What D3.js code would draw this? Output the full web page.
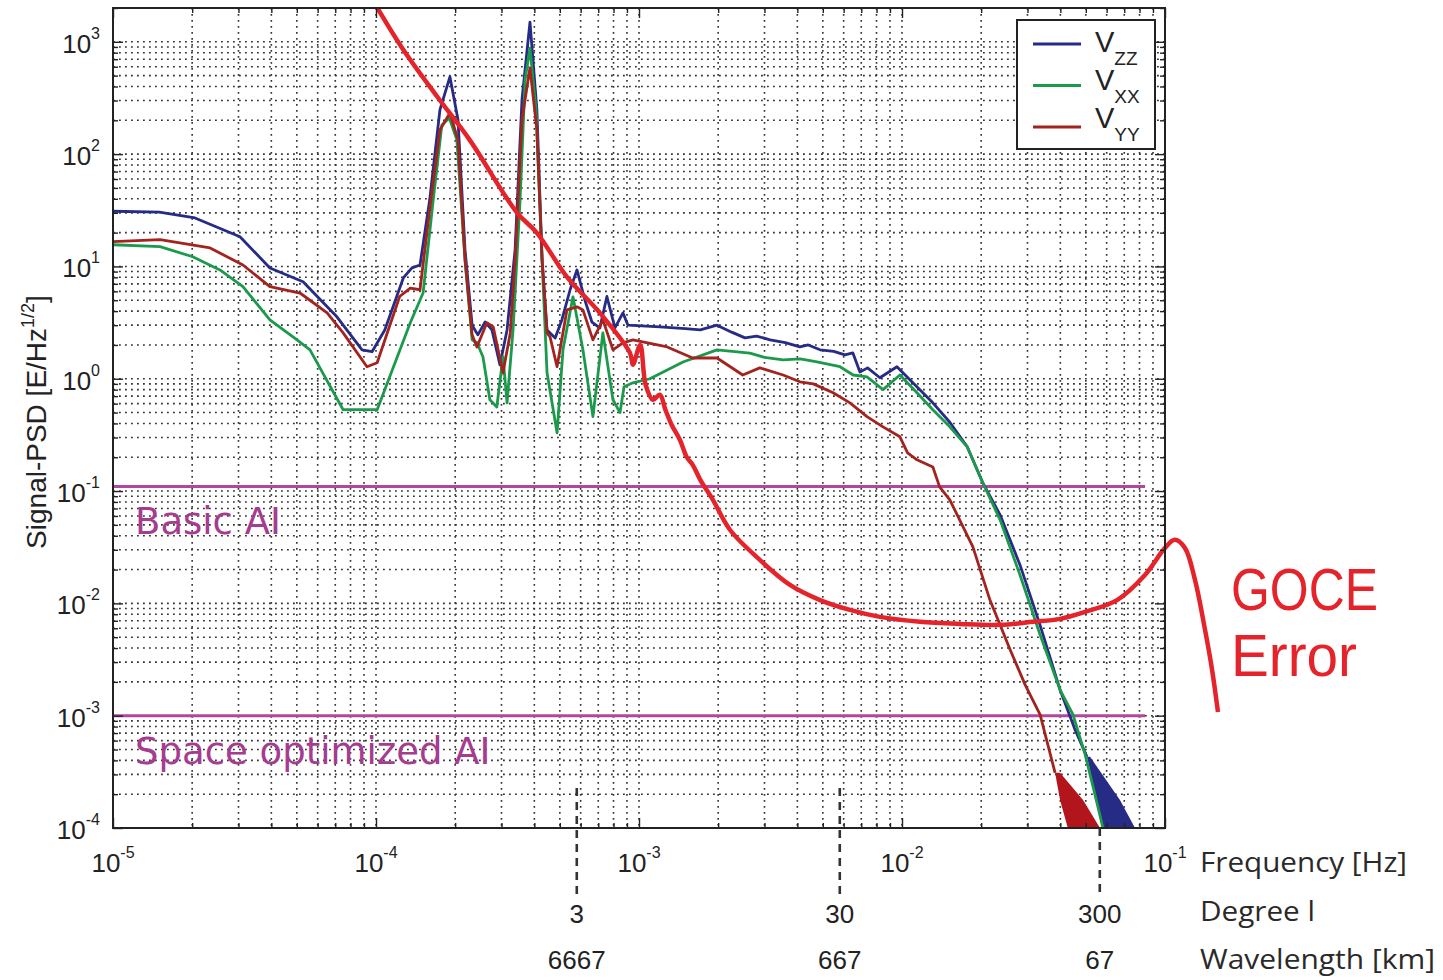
<!DOCTYPE html>
<html>
<head>
<meta charset="utf-8">
<script src="https://cdn.jsdelivr.net/npm/d3@7"></script>
<style>
  body { margin: 0; background: #fff; }
  svg { display: block; }
</style>
</head>
<body>
<div id="chart"></div>
<script>
// [frequency Hz, signal PSD E/Hz^1/2]
const vzz = [
  [1e-5, 31], [1.5e-5, 30.5], [2.05e-5, 27], [3.04e-5, 18.4], [3.95e-5, 9.7],
  [5.28e-5, 7.3], [7.1e-5, 3.56], [8.85e-5, 1.81], [9.66e-5, 1.74], [1.08e-4, 2.72],
  [1.27e-4, 7.9], [1.37e-4, 9.7], [1.47e-4, 10.3], [1.6e-4, 39], [1.75e-4, 248],
  [1.91e-4, 488], [2.05e-4, 202], [2.18e-4, 14.1], [2.32e-4, 3.0], [2.44e-4, 2.46],
  [2.6e-4, 3.2], [2.76e-4, 2.72], [2.96e-4, 1.33], [3.15e-4, 2.72], [3.38e-4, 14.1],
  [3.59e-4, 305], [3.85e-4, 1500], [4.09e-4, 248], [4.28e-4, 11.5], [4.47e-4, 2.72],
  [4.8e-4, 2.31], [5.09e-4, 3.34], [5.47e-4, 6.2], [5.81e-4, 9.3], [6.23e-4, 5.0],
  [6.62e-4, 3.2], [7.1e-4, 2.84], [7.55e-4, 5.4], [8.1e-4, 2.84], [8.69e-4, 3.86],
  [9.08e-4, 3.0], [1.2e-3, 2.9], [1.5e-3, 2.8], [1.71e-3, 2.72], [1.98e-3, 3.0],
  [2.25e-3, 2.6], [2.53e-3, 2.31], [2.8e-3, 2.4], [3.15e-3, 2.22], [3.6e-3, 2.1],
  [4.09e-3, 1.92], [4.4e-3, 2.0], [4.88e-3, 1.81], [5.5e-3, 1.75], [6.07e-3, 1.63],
  [6.5e-3, 1.7], [6.92e-3, 1.15], [7.4e-3, 1.25], [8.24e-3, 1.02], [9.57e-3, 1.28],
  [1.09e-2, 0.94], [1.31e-2, 0.61], [1.52e-2, 0.41], [1.77e-2, 0.248], [2.03e-2, 0.118],
  [2.36e-2, 0.0614], [2.81e-2, 0.022], [3.35e-2, 0.0064], [3.99e-2, 0.0017],
  [4.55e-2, 7.5e-4], [5.05e-2, 4.3e-4]
];

const vxx = [
  [1e-5, 15.6], [1.51e-5, 15.0], [2.01e-5, 12.2], [2.55e-5, 9.3], [3.12e-5, 6.6],
  [3.95e-5, 3.34], [5.01e-5, 2.22], [5.61e-5, 1.81], [7.5e-5, 0.53], [1.01e-4, 0.53],
  [1.35e-4, 3.15], [1.51e-4, 5.8], [1.65e-4, 39], [1.78e-4, 182], [1.9e-4, 210],
  [2.03e-4, 134], [2.18e-4, 11.5], [2.32e-4, 2.22], [2.42e-4, 2.09], [2.55e-4, 1.57],
  [2.71e-4, 0.65], [2.88e-4, 0.56], [3.04e-4, 1.57], [3.15e-4, 0.61], [3.32e-4, 2.72],
  [3.53e-4, 39], [3.69e-4, 459], [3.85e-4, 880], [4.06e-4, 248], [4.28e-4, 11.5],
  [4.47e-4, 1.13], [4.88e-4, 0.33], [5.14e-4, 1.81], [5.61e-4, 5.36], [6.12e-4, 1.81],
  [6.68e-4, 0.46], [7.29e-4, 2.56], [7.96e-4, 0.65], [8.47e-4, 0.5], [8.77e-4, 0.85],
  [9.48e-4, 0.92], [1.1e-3, 1.0], [1.47e-3, 1.41], [1.98e-3, 1.81], [2.64e-3, 1.69],
  [3.0e-3, 1.55], [3.53e-3, 1.47], [4.1e-3, 1.5], [4.75e-3, 1.41], [5.81e-3, 1.28],
  [6.52e-3, 1.08], [7.36e-3, 1.04], [8.47e-3, 0.8], [9.82e-3, 1.08], [1.14e-2, 0.75],
  [1.31e-2, 0.53], [1.52e-2, 0.373], [1.77e-2, 0.248], [2.03e-2, 0.118], [2.36e-2, 0.0554],
  [2.81e-2, 0.0179], [3.35e-2, 0.00525], [3.99e-2, 0.0017], [4.47e-2, 1.02e-3],
  [4.97e-2, 4.5e-4], [5.42e-2, 1.97e-4], [5.81e-2, 1e-4]
];

const vyy = [
  [1e-5, 16.6], [1.51e-5, 17.3], [2.34e-5, 14.6], [3.12e-5, 10.3], [3.95e-5, 6.6],
  [5.14e-5, 5.8], [6.52e-5, 3.86], [7.5e-5, 2.56], [9.24e-5, 1.28], [1.01e-4, 1.39],
  [1.23e-4, 5.4], [1.35e-4, 6.4], [1.47e-4, 6.2], [1.6e-4, 32], [1.75e-4, 164],
  [1.91e-4, 233], [2.05e-4, 134], [2.18e-4, 11.5], [2.32e-4, 2.46], [2.42e-4, 1.92],
  [2.64e-4, 3.15], [2.79e-4, 2.9], [3.04e-4, 1.13], [3.24e-4, 2.56], [3.38e-4, 11.5],
  [3.59e-4, 202], [3.85e-4, 587], [4.09e-4, 164], [4.28e-4, 11.5], [4.47e-4, 2.56],
  [4.59e-4, 2.36], [4.88e-4, 1.28], [5.32e-4, 4.1], [5.81e-4, 4.37], [6.12e-4, 4.1],
  [6.68e-4, 2.22], [7.29e-4, 3.34], [7.96e-4, 1.81], [8.69e-4, 2.09], [9.48e-4, 2.22],
  [1.28e-3, 1.92], [1.6e-3, 1.53], [1.98e-3, 1.53], [2.48e-3, 1.08], [2.88e-3, 1.25],
  [3.53e-3, 1.08], [4.09e-3, 0.94], [4.6e-3, 0.9], [5.47e-3, 0.75], [6.34e-3, 0.61],
  [7.36e-3, 0.46], [8.47e-3, 0.373], [9.82e-3, 0.304], [1.05e-2, 0.219], [1.14e-2, 0.19],
  [1.31e-2, 0.164], [1.39e-2, 0.109], [1.52e-2, 0.0835], [1.86e-2, 0.0318],
  [2.16e-2, 0.0107], [2.58e-2, 0.00385], [2.94e-2, 0.00188], [3.35e-2, 1.02e-3],
  [3.82e-2, 3.1e-4]
];

// noisy tails at the bottom: [psd, lowest frequency, highest frequency]
const vzzTail = [[4.3e-4, 5.05e-2, 5.19e-2], [1.78e-4, 5.5e-2, 6.74e-2], [1e-4, 5.81e-2, 7.69e-2]];
const vyyTail = [[3.1e-4, 3.82e-2, 3.99e-2], [1.78e-4, 3.99e-2, 4.88e-2], [1e-4, 4.27e-2, 5.66e-2]];

const goceError = [
  [1.0e-4, 2100], [1.27e-4, 849], [1.71e-4, 324], [2.27e-4, 134], [3.44e-4, 30],
  [4.09e-4, 19.9], [5.32e-4, 8.07], [7.1e-4, 3.86], [9.24e-4, 1.7], [9.48e-4, 1.33],
  [1.01e-3, 2.0], [1.06e-3, 0.88], [1.13e-3, 0.65], [1.2e-3, 0.72], [1.26e-3, 0.53],
  [1.33e-3, 0.39], [1.43e-3, 0.286], [1.52e-3, 0.2], [1.6e-3, 0.171], [1.71e-3, 0.126],
  [1.91e-3, 0.0836], [2.22e-3, 0.045], [2.88e-3, 0.0244], [3.75e-3, 0.0146],
  [4.88e-3, 0.0107], [6.34e-3, 0.00875], [8.24e-3, 0.00758], [1.17e-2, 0.00685],
  [1.66e-2, 0.00656], [2.36e-2, 0.00644], [3.15e-2, 0.00685], [3.99e-2, 0.00728],
  [4.97e-2, 0.0084], [6.57e-2, 0.0107], [8.39e-2, 0.0179], [0.1, 0.0312],
  [0.109, 0.0368], [0.119, 0.0312], [0.13, 0.0162], [0.142, 0.0058], [0.151, 0.00256],
  [0.159, 0.00108]
];

const seriesNames = [["V", "ZZ"], ["V", "XX"], ["V", "YY"]];
const aiLevels = [["Basic AI", 0.11], ["Space optimized AI", 1e-3]];
const aiLineEnd = 0.084;
const degreeFreqs = [5.8e-4, 5.8e-3, 5.65e-2];
const degreeLabels = ["3", "30", "300"];
const wavelengthLabels = ["6667", "667", "67"];
const rowTitles = ["Frequency [Hz]", "Degree l", "Wavelength [km]"];

class PsdChart {
  constructor({ el }) {
    this.el = el;
    this.init();
  }

  init() {
    this.width = 1443;
    this.height = 980;
    this.margin = { top: 8, right: 278, bottom: 152, left: 113 };
    this.colors = { vzz: "#262b86", vxx: "#1c9a4c", vyy: "#a3231f", goce: "#e5232a", ai: "#b3479d" };

    this.x = d3.scaleLog().domain([1e-5, 1e-1])
      .range([this.margin.left, this.width - this.margin.right]);
    this.y = d3.scaleLog().domain([1e-4, 2e3])
      .range([this.height - this.margin.bottom, this.margin.top]);

    this.svg = d3.select(this.el).append("svg")
      .attr("width", this.width).attr("height", this.height)
      .attr("font-family", "'Liberation Sans', Arial, sans-serif");

    const defs = this.svg.append("defs");
    defs.append("clipPath").attr("id", "plot-clip").append("rect")
      .attr("x", this.margin.left).attr("y", this.margin.top)
      .attr("width", this.x.range()[1] - this.margin.left)
      .attr("height", this.y.range()[0] - this.margin.top);
    defs.append("clipPath").attr("id", "top-clip").append("rect")
      .attr("x", 0).attr("y", this.margin.top)
      .attr("width", this.width).attr("height", this.height);

    this.render();
  }

  render() {
    this.renderGrid();
    this.renderAiLevels();
    this.renderSeries();
    this.renderAxes();
    this.renderLegend();
    this.renderDegreeScale();
    this.renderLabels();
  }

  isDecade(d) {
    const l = Math.log10(d);
    return Math.abs(l - Math.round(l)) < 1e-6;
  }

  renderGrid() {
    const [x0, x1] = this.x.range();
    const [y0, y1] = this.y.range();
    const g = this.svg.append("g")
      .attr("stroke", "#333").attr("stroke-width", 1.6)
      .attr("stroke-dasharray", "1.8,4.2");
    g.selectAll(".gx")
      .data(this.x.ticks().filter((d) => this.x(d) > x0 + 1 && this.x(d) < x1 - 1))
      .join("line").attr("class", "gx")
      .attr("x1", (d) => this.x(d)).attr("x2", (d) => this.x(d))
      .attr("y1", y1).attr("y2", y0);
    g.selectAll(".gy")
      .data(this.y.ticks().filter((d) => this.y(d) < y0 - 1 && this.y(d) > y1 + 1))
      .join("line").attr("class", "gy")
      .attr("y1", (d) => this.y(d)).attr("y2", (d) => this.y(d))
      .attr("x1", x0).attr("x2", x1);
  }

  renderAiLevels() {
    const g = this.svg.append("g");
    g.selectAll("line").data(aiLevels).join("line")
      .attr("x1", this.x(1e-5)).attr("x2", this.x(aiLineEnd))
      .attr("y1", (d) => this.y(d[1])).attr("y2", (d) => this.y(d[1]))
      .attr("stroke", this.colors.ai).attr("stroke-width", 3);
    g.selectAll("text").data(aiLevels).join("text")
      .attr("x", this.margin.left + 22)
      .attr("y", (d) => this.y(d[1]) + 48)
      .attr("font-family", "'DejaVu Sans', Verdana, sans-serif")
      .attr("font-size", 37)
      .attr("fill", "#a53c90")
      .text((d) => d[0]);
  }

  renderSeries() {
    const line = d3.line().x((d) => this.x(d[0])).y((d) => this.y(d[1]));
    const band = d3.area().y((d) => this.y(d[0]))
      .x0((d) => this.x(d[1])).x1((d) => this.x(d[2]));

    const g = this.svg.append("g").attr("clip-path", "url(#plot-clip)");
    g.append("path").datum(vzzTail).attr("d", band).attr("fill", this.colors.vzz);
    g.append("path").datum(vyyTail).attr("d", band).attr("fill", "#b3151c");
    [[vzz, this.colors.vzz], [vxx, this.colors.vxx], [vyy, this.colors.vyy]]
      .forEach(([data, color]) => {
        g.append("path").datum(data).attr("d", line)
          .attr("fill", "none").attr("stroke", color)
          .attr("stroke-width", 2.8).attr("stroke-linejoin", "round");
      });

    this.svg.append("path").datum(goceError)
      .attr("clip-path", "url(#top-clip)")
      .attr("d", line.curve(d3.curveCatmullRom.alpha(0.5)))
      .attr("fill", "none").attr("stroke", this.colors.goce)
      .attr("stroke-width", 4.5).attr("stroke-linejoin", "round");
  }

  renderAxes() {
    const [x0, x1] = this.x.range();
    const [y0, y1] = this.y.range();
    const xMinor = this.x.ticks().filter((d) => !this.isDecade(d));
    const xMajor = this.x.ticks().filter((d) => this.isDecade(d));
    const yMinor = this.y.ticks().filter((d) => !this.isDecade(d));
    const yMajor = this.y.ticks().filter((d) => this.isDecade(d));

    const tick = (axis, values, size) => (g) =>
      g.call(axis.tickValues(values).tickSizeInner(-size).tickSizeOuter(0).tickFormat(""))
        .call((g) => g.select(".domain").remove())
        .call((g) => g.selectAll(".tick line").attr("stroke", "#222").attr("stroke-width", 1.4));

    const axes = [
      [() => d3.axisBottom(this.x), `translate(0,${y0})`, xMinor, xMajor],
      [() => d3.axisTop(this.x), `translate(0,${y1})`, xMinor, xMajor],
      [() => d3.axisLeft(this.y), `translate(${x0},0)`, yMinor, yMajor],
      [() => d3.axisRight(this.y), `translate(${x1},0)`, yMinor, yMajor],
    ];
    axes.forEach(([makeAxis, transform, minor, major]) => {
      this.svg.append("g").attr("transform", transform).call(tick(makeAxis(), minor, 5));
      this.svg.append("g").attr("transform", transform).call(tick(makeAxis(), major, 10));
    });

    this.svg.append("rect")
      .attr("x", x0).attr("y", y1).attr("width", x1 - x0).attr("height", y0 - y1)
      .attr("fill", "none").attr("stroke", "#222").attr("stroke-width", 2);

    const power = (sel) => sel.each(function (d) {
      const t = d3.select(this);
      t.append("tspan").text("10");
      t.append("tspan").attr("font-size", 16).attr("dy", -14).text(Math.round(Math.log10(d)));
    });

    this.svg.append("g").attr("font-size", 26).attr("fill", "#222")
      .selectAll("text").data(xMajor).join("text")
      .attr("x", (d) => this.x(d)).attr("y", y0 + 44)
      .attr("text-anchor", "middle")
      .call(power);

    this.svg.append("g").attr("font-size", 26).attr("fill", "#222")
      .selectAll("text").data(yMajor).join("text")
      .attr("x", x0 - 13).attr("y", (d) => this.y(d) + 11)
      .attr("text-anchor", "end")
      .call(power);
  }

  renderLegend() {
    const g = this.svg.append("g").attr("transform", "translate(1017,20)");
    g.append("rect").attr("width", 138).attr("height", 129)
      .attr("fill", "#fff").attr("stroke", "#222").attr("stroke-width", 2);
    const colors = [this.colors.vzz, this.colors.vxx, this.colors.vyy];
    g.selectAll("line").data(seriesNames).join("line")
      .attr("x1", 16).attr("x2", 64)
      .attr("y1", (d, i) => 24 + i * 41.5).attr("y2", (d, i) => 24 + i * 41.5)
      .attr("stroke", (d, i) => colors[i]).attr("stroke-width", 3);
    const label = g.selectAll("text").data(seriesNames).join("text")
      .attr("x", 78).attr("y", (d, i) => 32 + i * 38)
      .attr("font-size", 29).attr("fill", "#222");
    label.append("tspan").text((d) => d[0]);
    label.append("tspan").attr("font-size", 19).attr("dy", 13).text((d) => d[1]);
  }

  renderDegreeScale() {
    const y0 = this.y.range()[0];
    const g = this.svg.append("g").attr("fill", "#222").attr("font-size", 26);
    g.selectAll("line").data(degreeFreqs).join("line")
      .attr("x1", (d) => this.x(d)).attr("x2", (d) => this.x(d))
      .attr("y1", (d, i) => (i === 2 ? y0 : y0 - 40)).attr("y2", y0 + 66)
      .attr("stroke", "#333").attr("stroke-width", 2.6)
      .attr("stroke-dasharray", "8,6");
    g.selectAll(".deg").data(degreeFreqs).join("text").attr("class", "deg")
      .attr("x", (d) => this.x(d)).attr("y", y0 + 95)
      .attr("text-anchor", "middle").text((d, i) => degreeLabels[i]);
    g.selectAll(".wl").data(degreeFreqs).join("text").attr("class", "wl")
      .attr("x", (d) => this.x(d)).attr("y", y0 + 141)
      .attr("text-anchor", "middle").text((d, i) => wavelengthLabels[i]);
  }

  renderLabels() {
    const y0 = this.y.range()[0];
    const widths = [207, 115, 235];
    this.svg.append("g")
      .attr("font-family", "'Open Sans', 'Noto Sans', sans-serif")
      .attr("font-size", 28).attr("fill", "#2a2a2a")
      .selectAll("text").data(rowTitles).join("text")
      .attr("x", 1200).attr("y", (d, i) => y0 + 44 + i * 48.5)
      .attr("textLength", (d, i) => widths[i]).attr("lengthAdjust", "spacingAndGlyphs")
      .text((d) => d);

    const goce = this.svg.append("g")
      .attr("font-size", 59).attr("fill", this.colors.goce);
    goce.append("text").attr("x", 1231).attr("y", 610)
      .attr("textLength", 147).attr("lengthAdjust", "spacingAndGlyphs").text("GOCE");
    goce.append("text").attr("x", 1231).attr("y", 676)
      .attr("textLength", 126).attr("lengthAdjust", "spacingAndGlyphs").text("Error");

    const yl = this.svg.append("text")
      .attr("transform", "translate(46,422) rotate(-90)")
      .attr("text-anchor", "middle").attr("font-size", 28).attr("fill", "#222");
    yl.append("tspan").text("Signal-PSD [E/Hz");
    yl.append("tspan").attr("font-size", 18).attr("dy", -12).text("1/2");
    yl.append("tspan").attr("dy", 12).text("]");
  }
}

new PsdChart({ el: document.getElementById("chart") });
</script>
</body>
</html>
